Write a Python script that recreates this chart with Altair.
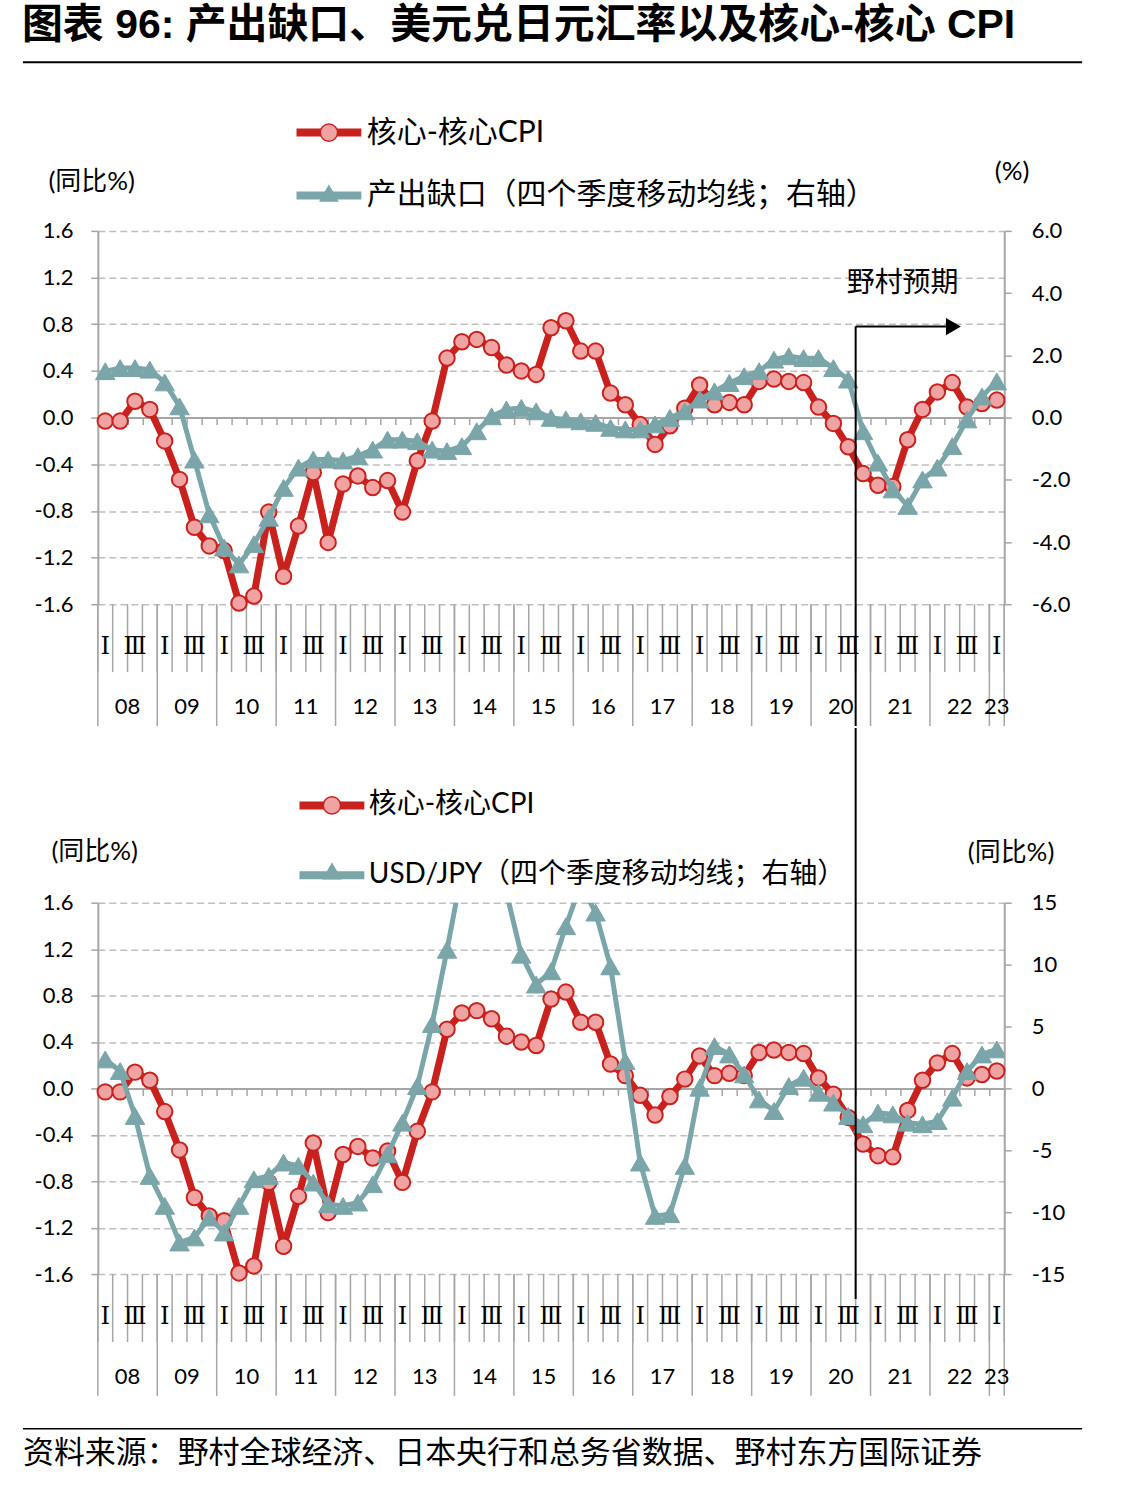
import altair as alt
import pandas as pd

# ---------------- data (2008Q1 ... 2023Q1) ----------------
quarter_index = list(range(1, 62))
core_core_cpi = [-0.03, -0.03, 0.14, 0.07, -0.20, -0.53, -0.94, -1.10, -1.14, -1.59,
                 -1.53, -0.81, -1.36, -0.93, -0.47, -1.07, -0.57, -0.50, -0.60, -0.54,
                 -0.81, -0.37, -0.03, 0.51, 0.65, 0.67, 0.60, 0.45, 0.40, 0.37,
                 0.77, 0.83, 0.57, 0.57, 0.21, 0.11, -0.06, -0.23, -0.07, 0.08,
                 0.28, 0.11, 0.13, 0.11, 0.31, 0.33, 0.31, 0.30, 0.09, -0.05,
                 -0.25, -0.48, -0.58, -0.59, -0.19, 0.07, 0.22, 0.30, 0.09, 0.12, 0.15]
output_gap = [1.49, 1.59, 1.59, 1.54, 1.13, 0.36, -1.35, -3.11, -4.18, -4.72,
              -4.07, -3.22, -2.26, -1.61, -1.35, -1.35, -1.38, -1.24, -1.03, -0.71,
              -0.71, -0.76, -1.03, -1.08, -0.92, -0.44, 0.04, 0.26, 0.31, 0.20,
              -0.01, -0.06, -0.12, -0.17, -0.33, -0.38, -0.38, -0.22, -0.01, 0.20,
              0.58, 0.84, 1.11, 1.33, 1.49, 1.86, 1.97, 1.91, 1.91, 1.59,
              1.22, -0.44, -1.45, -2.31, -2.84, -1.99, -1.61, -0.92, -0.06, 0.68, 1.16]
usd_jpy = [2.34, 1.40, -2.23, -7.07, -9.49, -12.45, -12.04, -10.43, -11.64, -9.49,
           -7.34, -7.07, -5.99, -6.26, -7.61, -9.35, -9.49, -9.22, -7.74, -5.32,
           -2.77, 0.19, 5.20, 11.2, 17.5, 20.0, 19.0, 15.8, 10.8, 8.39,
           9.46, 13.1, 16.5, 14.2, 9.86, 2.2, -5.99, -10.3, -10.16, -6.26,
           0.05, 3.41, 2.74, 1.13, -0.89, -1.83, 0.19, 0.86, -0.35, -1.15,
           -2.23, -2.90, -1.96, -2.10, -2.77, -2.90, -2.64, -0.75, 1.40, 2.74, 3.15]
year_labels = ["08", "09", "10", "11", "12", "13", "14", "15",
               "16", "17", "18", "19", "20", "21", "22", "23"]
roman_labels = ["Ⅰ", "", "Ⅲ", ""]
left_ticks = [-1.6, -1.2, -0.8, -0.4, 0.0, 0.4, 0.8, 1.2, 1.6]
gap_ticks = [-6, -4, -2, 0, 2, 4, 6]
fx_ticks = [-15, -10, -5, 0, 5, 10, 15]

RED_NAME = "核心-核心CPI"
GAP_NAME = "产出缺口（四个季度移动均线；右轴）"
FX_NAME = "USD/JPY（四个季度移动均线；右轴）"
TITLE = "图表 96: 产出缺口、美元兑日元汇率以及核心-核心 CPI"
SOURCE = "资料来源：野村全球经济、日本央行和总务省数据、野村东方国际证券"
ANNOT = "野村预期"

# ---------------- style ----------------
RED = "#C9211E"
PINK = "#F0A3A3"
TEAL = "#7AA5A9"
GRID = "#BFBFBF"
AXC = "#A6A6A6"
CJK = "Noto Sans CJK SC"
NUM = "Lato"
MIX = "Lato, Noto Sans CJK SC"
ROMAN_FONT = "DejaVu Serif, Noto Sans CJK SC"

boundaries = [k + 0.5 for k in range(62)]
year_bounds = [0.5 + 4 * k for k in range(16)] + [61.5]
year_centers = [2.5 + 4 * k for k in range(15)] + [61.0]

roman_df = pd.DataFrame({"t": quarter_index,
                         "lab": [roman_labels[(t - 1) % 4] for t in quarter_index]})
roman_df = roman_df[roman_df["lab"] != ""]
year_df = pd.DataFrame({"t": year_centers, "lab": year_labels})
one = pd.DataFrame({"a": [0]})

LEFT_EXT = 75   # distance from page padding to plot origin


def lab_expr(fmt):
    return (f"datum.value < 0 ? '-' + format(-datum.value, '{fmt}') : "
            f"format(datum.value, '{fmt}')")


def x_enc(h):
    return alt.X("t:Q", scale=alt.Scale(domain=[0.5, 61.5], nice=False, zero=False),
                 axis=alt.Axis(values=boundaries, labels=False, tickSize=7, tickWidth=1.5,
                               tickColor=AXC, domainColor=AXC, domainWidth=2, grid=False,
                               offset=-h / 2, title=None))


def y_axis(orient, values, fmt, title, tx, ty, grid, pad):
    return alt.Axis(orient=orient, values=values, labelExpr=lab_expr(fmt), grid=grid,
                    gridColor=GRID, gridDash=[7, 4], gridWidth=1.5, domainColor=AXC,
                    domainWidth=2, tickColor=AXC, tickSize=7, tickWidth=1.5,
                    labelFont=NUM, labelFontSize=22, labelColor="#000000",
                    labelPadding=pad, title=title, titleAngle=0, titleAlign="left",
                    titleBaseline="middle", titleX=tx, titleY=ty, titleFont=MIX,
                    titleFontSize=26, titleFontWeight="normal", titleColor="#000000")


def panel(w, h, teal_name, teal_vals, rdom, rvals, rfmt, lt_xy, rtitle, rt_xy,
          leg, extra_left, extra_top, clip):
    names = [RED_NAME, teal_name]
    lx, ly, rp, fs, lo = leg
    X = x_enc(h)
    L1 = alt.Legend(orient="none", legendX=lx, legendY=ly, direction="vertical",
                    title=None, padding=0, symbolType="M-4.64,0H4.64", symbolSize=196,
                    symbolStrokeWidth=8, symbolOpacity=1, labelFont=MIX,
                    labelFontSize=fs, labelColor="#000000", labelOffset=lo,
                    labelLimit=2000, rowPadding=rp)
    L2 = alt.Legend(orient="none", legendX=lx, legendY=ly, direction="vertical",
                    title=None, padding=0, symbolSize=300, symbolStrokeWidth=1.5,
                    symbolOpacity=1, labelExpr="' '", labelFont=MIX,
                    labelFontSize=fs, labelOffset=lo, rowPadding=rp)
    # line legend: data-driven sorted domain; marker legend: explicit domain (merged)
    color = alt.Color("s:N", sort=names, scale=alt.Scale(range=[RED, TEAL]), legend=L1)
    fill = alt.Fill("s2:N", scale=alt.Scale(domain=names, range=[PINK, TEAL]), legend=L2)
    stroke = alt.Stroke("s2:N", scale=alt.Scale(domain=names, range=[RED, TEAL]), legend=L2)
    shape = alt.Shape("s2:N", scale=alt.Scale(domain=names,
                                              range=["circle", "triangle-up"]), legend=L2)

    yl = alt.Y("v:Q", scale=alt.Scale(domain=[-1.6, 1.6], nice=False, zero=False),
               axis=y_axis("left", left_ticks, ".1f", "(同比%)", lt_xy[0], lt_xy[1], True, 18))
    yr = alt.Y("v:Q", scale=alt.Scale(domain=rdom, nice=False, zero=False),
               axis=y_axis("right", rvals, rfmt, rtitle, rt_xy[0], rt_xy[1], False, 20))

    df_red = pd.DataFrame({"t": quarter_index, "v": core_core_cpi,
                           "s": RED_NAME, "s2": RED_NAME})
    df_teal = pd.DataFrame({"t": quarter_index, "v": teal_vals,
                            "s": teal_name, "s2": teal_name})

    sep_short = alt.Chart(pd.DataFrame({"t": boundaries})).mark_rule(
        color=AXC, strokeWidth=1.5).encode(x=X, y=alt.value(h), y2=alt.value(h + 68))
    sep_long = alt.Chart(pd.DataFrame({"t": year_bounds})).mark_rule(
        color=AXC, strokeWidth=1.5).encode(x=X, y=alt.value(h), y2=alt.value(h + 122))
    roman = alt.Chart(roman_df).mark_text(font=ROMAN_FONT, fontSize=24,
                                          color="#000000").encode(
        x=X, y=alt.value(h + 43), text="lab:N")
    years = alt.Chart(year_df).mark_text(font=NUM, fontSize=22, color="#000000").encode(
        x=X, y=alt.value(h + 103), text="lab:N")

    red_line = alt.Chart(df_red).mark_line(strokeWidth=7, strokeJoin="round").encode(
        x=X, y=yl, color=color)
    red_pts = alt.Chart(df_red).mark_point(filled=True, size=240, strokeWidth=2,
                                           opacity=1).encode(
        x=X, y=yl, fill=fill, stroke=stroke, shape=shape)
    teal_line = alt.Chart(df_teal).mark_line(strokeWidth=5, strokeJoin="round",
                                             clip=clip).encode(x=X, y=yr, color=color)
    teal_pts = alt.Chart(df_teal).mark_point(filled=True, size=380, strokeWidth=1,
                                             opacity=1, clip=clip).encode(
        x=X, y=yr, fill=fill, stroke=stroke, shape=shape)

    left = alt.layer(sep_short, sep_long, roman, years, *extra_left(X), red_line, red_pts)
    right = alt.layer(teal_line, teal_pts)
    layers = [left, right, alt.layer(*extra_top(X))]
    return alt.layer(*layers).resolve_scale(y="independent").properties(width=w, height=h)


W1, H1 = 908, 374
W2, H2 = 908, 372
ANN_T = 51.5          # boundary between 2020Q3 and 2020Q4
ANN_V = 0.78
ANN_T2 = 57.68
HEAD_T = 58.08
TXT_T, TXT_V = 54.66, 1.147


def top_extra_left(X):
    rule = alt.Chart(one).mark_rule(color="#000000", strokeWidth=2).encode(
        x=alt.value(-LEFT_EXT), x2=alt.value(986), y=alt.value(-169))
    return [rule]


def top_extra_top(X):
    ys = alt.Scale(domain=[-1.6, 1.6], nice=False, zero=False)
    vline = alt.Chart(pd.DataFrame({"t": [ANN_T], "v": [ANN_V]})).mark_rule(
        color="#000000", strokeWidth=2).encode(
        x=X, y=alt.Y("v:Q", scale=ys, axis=None), y2=alt.value(H1 + 122))
    hline = alt.Chart(pd.DataFrame({"t": [ANN_T], "t2": [ANN_T2], "v": [ANN_V]})).mark_rule(
        color="#000000", strokeWidth=2).encode(
        x=X, x2="t2:Q", y=alt.Y("v:Q", scale=ys, axis=None))
    head = alt.Chart(pd.DataFrame({"t": [HEAD_T], "v": [ANN_V]})).mark_point(
        shape="triangle-right", filled=True, color="#000000", size=300, opacity=1).encode(
        x=X, y=alt.Y("v:Q", scale=ys, axis=None))
    txt = alt.Chart(pd.DataFrame({"t": [TXT_T], "v": [TXT_V], "lab": [ANNOT]})).mark_text(
        font=CJK, fontSize=28, color="#000000").encode(
        x=X, y=alt.Y("v:Q", scale=ys, axis=None), text="lab:N")
    return [vline, hline, head, txt]


def bot_extra_left(X):
    rule = alt.Chart(one).mark_rule(color="#000000", strokeWidth=1.5).encode(
        x=alt.value(-LEFT_EXT), x2=alt.value(986), y=alt.value(527))
    src = alt.Chart(pd.DataFrame({"lab": [SOURCE]})).mark_text(
        font=CJK, fontSize=31, color="#000000", align="left").encode(
        x=alt.value(-LEFT_EXT), y=alt.value(552), text="lab:N")
    return [rule, src]


def bot_extra_top(X):
    vline = alt.Chart(pd.DataFrame({"t": [ANN_T]})).mark_rule(
        color="#000000", strokeWidth=2).encode(
        x=X, y=alt.value(-175), y2=alt.value(H2 + 25))
    return [vline]


p1 = panel(W1, H1, GAP_NAME, output_gap, [-6, 6], gap_ticks, ".1f",
           (-50, -49), "(%)", (-10, -59), (216.5, -113.5, 31, 30, 23),
           top_extra_left, top_extra_top, False)
p2 = panel(W2, H2, FX_NAME, usd_jpy, [-15, 15], fx_ticks, "d",
           (-47, -51), "(同比%)", (-37, -50), (220.5, -111.5, 38, 28, 23),
           bot_extra_left, bot_extra_top, True)

chart = alt.vconcat(p1, p2, spacing=0).resolve_scale(
    x="independent", color="independent", fill="independent",
    stroke="independent", shape="independent").resolve_legend(
    color="independent", fill="independent", stroke="independent",
    shape="independent").properties(
    title=alt.TitleParams(TITLE, anchor="start", font="Liberation Sans, Noto Sans CJK SC",
                          fontSize=41, fontWeight="bold", color="#000000", offset=14),
    padding={"left": 22, "right": 59, "top": 4, "bottom": 10},
).configure_view(stroke=None)

chart.save("out.html", embed_options={"renderer": "svg", "actions": False})
